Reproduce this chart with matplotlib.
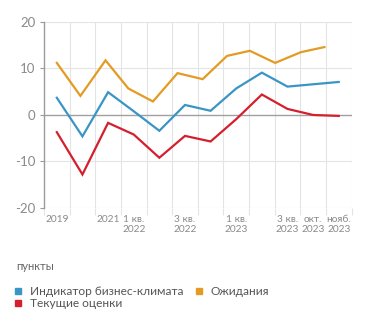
import matplotlib.pyplot as plt
import numpy as np

# индикатор бизнес-климата и его компоненты, пункты
periods = ["2019", "2020", "2021", "1 кв.\n2022", "2 кв.\n2022", "3 кв.\n2022", "4 кв.\n2022",
           "1 кв.\n2023", "2 кв.\n2023", "3 кв.\n2023", "окт.\n2023", "нояб.\n2023"]
shown_labels = ["2019", "", "2021", "1 кв.\n2022", "", "3 кв.\n2022", "",
                "1 кв.\n2023", "", "3 кв.\n2023", "окт.\n2023", "нояб.\n2023"]
climate = [3.7, -4.6, 4.9, 0.8, -3.4, 2.15, 0.9, 5.7, 9.1, 6.1, 6.6, 7.1]
current = [-3.7, -12.8, -1.7, -4.2, -9.2, -4.5, -5.7, -0.9, 4.4, 1.3, 0.0, -0.2]
expect_x = [0, 0.92, 1.9, 2.79, 3.75, 4.71, 5.69, 6.64, 7.53, 8.52, 9.52, 10.44]
expect = [11.2, 4.1, 11.75, 5.7, 2.9, 9.0, 7.7, 12.7, 13.8, 11.2, 13.5, 14.6]

blue = "#3b95c4"
orange = "#e49b24"
red = "#d4202e"
grid = "#e4e4e4"
text_c = "#8a8a8a"

plt.rcParams["font.family"] = ["Lato", "DejaVu Sans"]

fig = plt.figure(figsize=(3.71, 3.28), dpi=100)
ax = fig.add_axes([0.1186, 0.366, 0.829, 0.567])

x = np.arange(len(periods))
ax.plot(x, climate, color=blue, lw=1.6, solid_joinstyle="miter")
ax.plot(expect_x, expect, color=orange, lw=1.6, solid_joinstyle="miter")
ax.plot(x, current, color=red, lw=1.6, solid_joinstyle="miter")

ax.set_xlim(-0.5, 11.5)
ax.set_ylim(-20, 20)
ax.set_yticks([-20, -10, 0, 10, 20])
ax.set_yticklabels(["-20", "-10", "0", "10", "20"])
ax.set_xticks(x)
ax.set_xticklabels(shown_labels)
ax.set_xticks(np.arange(-0.5, 12, 1), minor=True)

for s in ["top", "right", "bottom"]:
    ax.spines[s].set_visible(False)
ax.spines["left"].set_color("#9a9a9a")
ax.spines["left"].set_linewidth(1.0)

for v in [-20, -10, 10, 20]:
    ax.axhline(v, color=grid, lw=0.8, zorder=0)
for v in np.arange(0.5, 12, 1):
    ax.axvline(v, color=grid, lw=0.8, zorder=0)
ax.axhline(0, color="#a0a0a0", lw=1.0, zorder=1)

ax.tick_params(axis="y", length=3, color="#9a9a9a", labelsize=9.5, labelcolor=text_c, pad=3)
ax.tick_params(axis="x", which="major", length=0, labelsize=7.3, labelcolor=text_c, pad=5)
ax.tick_params(axis="x", which="minor", length=5, color=grid, width=0.8)

fig.text(0.045, 0.178, "пункты", fontsize=8, color="#666666")

# порядок маркеров: первая колонка — синий и красный, вторая — оранжевый
handles = [plt.Line2D([], [], ls="none", marker="s", ms=5, color=c) for c in (blue, red, orange)]
fig.legend(handles, ["Индикатор бизнес-климата", "Текущие оценки", "Ожидания"],
           loc="upper left", bbox_to_anchor=(0.035, 0.128), ncol=2, frameon=False,
           fontsize=8.6, labelcolor="#555555", handlelength=0.8, handletextpad=0.6,
           columnspacing=0.9, labelspacing=0.1, borderaxespad=0, borderpad=0)

fig.savefig("out.png", dpi=100)
